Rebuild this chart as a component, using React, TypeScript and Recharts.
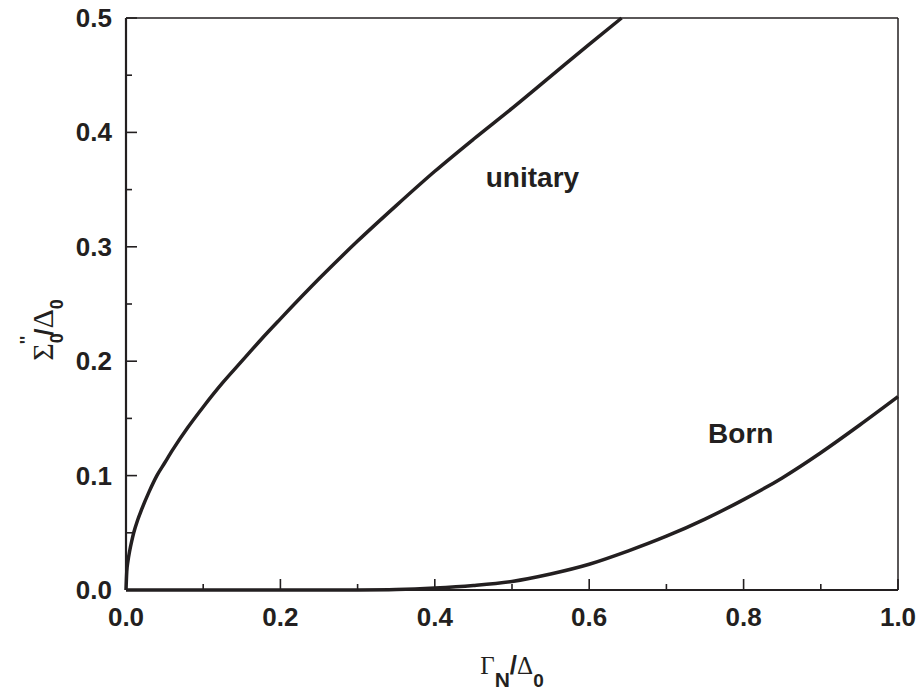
import { LineChart, Line, XAxis, YAxis, ReferenceDot } from "recharts";

// unitary limit
const unitaryX = [0, 0.001, 0.0025, 0.005, 0.0075, 0.01, 0.015, 0.02, 0.03, 0.04, 0.05, 0.06, 0.08, 0.1, 0.125, 0.15, 0.175, 0.2, 0.25, 0.3, 0.35, 0.4, 0.45, 0.5, 0.55, 0.6, 0.642];
const unitaryY = [0, 0.016, 0.025, 0.035, 0.043, 0.05, 0.061, 0.07, 0.086, 0.1, 0.111, 0.122, 0.142, 0.16, 0.181, 0.2, 0.219, 0.237, 0.272, 0.305, 0.336, 0.366, 0.394, 0.421, 0.449, 0.477, 0.5];

// Born limit
const bornX = [0, 0.1, 0.2, 0.25, 0.3, 0.35, 0.4, 0.45, 0.5, 0.55, 0.6, 0.65, 0.7, 0.75, 0.8, 0.85, 0.9, 0.95, 1.0];
const bornY = [0, 0, 0, 0, 0.0001, 0.0005, 0.0018, 0.004, 0.0075, 0.014, 0.0225, 0.034, 0.047, 0.062, 0.079, 0.098, 0.12, 0.144, 0.169];

const xMajor = [0, 0.2, 0.4, 0.6, 0.8, 1.0];
const xMinor = [0.1, 0.3, 0.5, 0.7, 0.9];
const yMajor = [0, 0.1, 0.2, 0.3, 0.4, 0.5];
const yMinor = [0.05, 0.15, 0.25, 0.35, 0.45];

const unitaryData = unitaryX.map((x, i) => ({ x, y: unitaryY[i] }));
const bornData = bornX.map((x, i) => ({ x, y: bornY[i] }));
const xTicks = [...xMajor, ...xMinor].sort((a, b) => a - b);
const yTicks = [...yMajor, ...yMinor].sort((a, b) => a - b);

const INK = "#231f20";
const SANS = "'Liberation Sans', Arial, sans-serif";
const SERIF = "'Liberation Serif', 'Times New Roman', serif";

const isMajor = (list: number[], v: number) => list.some((m) => Math.abs(m - v) < 1e-6);

const BottomTick = (props: any) => {
  const { x, y, payload } = props;
  const major = isMajor(xMajor, payload.value);
  return (
    <g>
      <line x1={x} x2={x} y1={y} y2={y - (major ? 11 : 6)} stroke={INK} strokeWidth={1.6} />
      {major && (
        <text x={x} y={y + 36} textAnchor="middle" fontFamily={SANS} fontWeight="bold" fontSize={26} fill={INK}>
          {payload.value.toFixed(1)}
        </text>
      )}
    </g>
  );
};

const LeftTick = (props: any) => {
  const { x, y, payload } = props;
  const major = isMajor(yMajor, payload.value);
  return (
    <g>
      <line x1={x} x2={x + (major ? 11 : 6)} y1={y} y2={y} stroke={INK} strokeWidth={1.6} />
      {major && (
        <text x={x - 14} y={y + 9} textAnchor="end" fontFamily={SANS} fontWeight="bold" fontSize={26} fill={INK}>
          {payload.value.toFixed(1)}
        </text>
      )}
    </g>
  );
};

const TopTick = (props: any) => {
  const { x, y, payload } = props;
  const major = isMajor(xMajor, payload.value);
  return <line x1={x} x2={x} y1={y} y2={y + (major ? 4 : 2)} stroke={INK} strokeWidth={1} />;
};

const RightTick = (props: any) => {
  const { x, y, payload } = props;
  const major = isMajor(yMajor, payload.value);
  return <line x1={x} x2={x - (major ? 5 : 3)} y1={y} y2={y} stroke={INK} strokeWidth={1} />;
};

const XTitle = (props: any) => {
  const { viewBox } = props;
  const cx = viewBox.x + viewBox.width / 2;
  return (
    <text x={cx} y={viewBox.y + 84} textAnchor="middle" fill={INK}>
      <tspan fontFamily={SERIF} fontSize={25}>Γ</tspan>
      <tspan fontFamily={SANS} fontWeight="bold" fontSize={21} dy={13}>N</tspan>
      <tspan fontFamily={SANS} fontWeight="bold" fontSize={26} dy={-13}>/</tspan>
      <tspan fontFamily={SERIF} fontSize={25}>Δ</tspan>
      <tspan fontFamily={SANS} fontWeight="bold" fontSize={19} dy={13}>0</tspan>
    </text>
  );
};

const YTitle = () => (
  <text x={0} y={0} transform="translate(53, 330) rotate(-90)" textAnchor="middle" fill={INK}>
    <tspan fontFamily={SERIF} fontSize={30}>Σ</tspan>
    <tspan fontFamily={SANS} fontWeight="bold" fontSize={18} dy={10}>0</tspan>
    <tspan fontFamily={SANS} fontWeight="bold" fontSize={18} dx={-11} dy={-30}>''</tspan>
    <tspan fontFamily={SANS} fontWeight="bold" fontSize={26} dy={20}>/</tspan>
    <tspan fontFamily={SERIF} fontSize={30}>Δ</tspan>
    <tspan fontFamily={SANS} fontWeight="bold" fontSize={18} dy={10}>0</tspan>
  </text>
);

const curveLabel = (text: string) => (p: any) => (
  <text x={p.cx} y={p.cy} fontFamily={SANS} fontWeight="bold" fontSize={28} fill={INK}>
    {text}
  </text>
);

export default function App() {
  return (
    <div style={{ position: "absolute", left: 0, top: 0, background: "#fff" }}>
      <LineChart width={921} height={696} margin={{ top: 17, right: 22, bottom: 36, left: 0 }}>
        <XAxis
          dataKey="x"
          type="number"
          domain={[0, 1]}
          ticks={xTicks}
          interval={0}
          height={70}
          tickLine={false}
          tickSize={0}
          tickMargin={0}
          tick={<BottomTick />}
          axisLine={{ stroke: INK, strokeWidth: 2.2 }}
          label={<XTitle />}
        />
        <XAxis
          xAxisId="top"
          orientation="top"
          dataKey="x"
          type="number"
          domain={[0, 1]}
          ticks={xTicks}
          interval={0}
          height={1}
          tickLine={false}
          tickSize={0}
          tickMargin={0}
          tick={<TopTick />}
          axisLine={{ stroke: INK, strokeWidth: 1.5 }}
        />
        <YAxis
          type="number"
          domain={[0, 0.5]}
          ticks={yTicks}
          interval={0}
          width={126}
          tickLine={false}
          tickSize={0}
          tickMargin={0}
          tick={<LeftTick />}
          axisLine={{ stroke: INK, strokeWidth: 2.2 }}
        />
        <YAxis
          yAxisId="right"
          orientation="right"
          type="number"
          domain={[0, 0.5]}
          ticks={yTicks}
          interval={0}
          width={1}
          tickLine={false}
          tickSize={0}
          tickMargin={0}
          tick={<RightTick />}
          axisLine={{ stroke: INK, strokeWidth: 1.5 }}
        />
        <Line data={unitaryData} dataKey="y" type="monotone" stroke={INK} strokeWidth={3.5} dot={false} isAnimationActive={false} />
        <Line data={bornData} dataKey="y" type="monotone" stroke={INK} strokeWidth={3.5} dot={false} isAnimationActive={false} />
        <ReferenceDot x={0.466} y={0.352} r={0} shape={curveLabel("unitary")} />
        <ReferenceDot x={0.754} y={0.1285} r={0} shape={curveLabel("Born")} />
        <YTitle />
      </LineChart>
    </div>
  );
}
